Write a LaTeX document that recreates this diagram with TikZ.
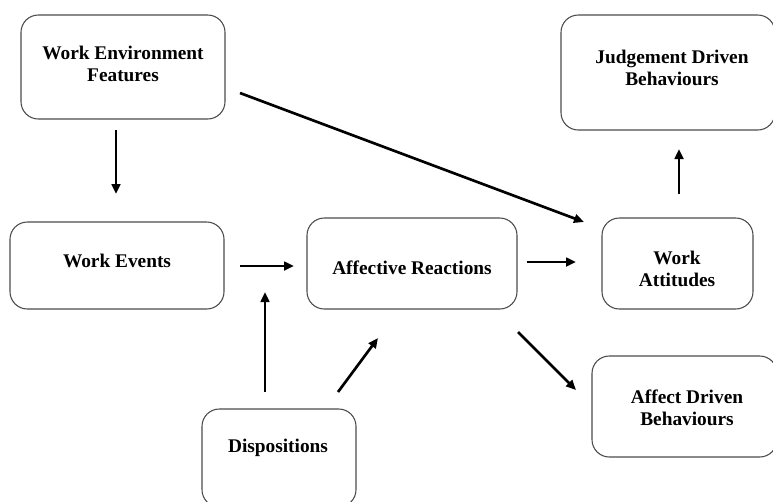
\documentclass[tikz,border=0pt]{standalone}
\usepackage{fontspec}
\setmainfont{Liberation Serif}
\usetikzlibrary{arrows.meta}
\begin{document}
\begin{tikzpicture}[x=0.75pt,y=-0.75pt,
  box/.style={draw=black!70,line width=0.8pt,rounded corners=13pt,fill=white},
  lbl/.style={font=\fontsize{14.5}{16.5}\selectfont\bfseries,align=center,inner sep=0pt},
  arr/.style={line width=2pt,-{Triangle[length=7.5pt,width=6.5pt]}}]
\useasboundingbox[fill=white] (0,0) rectangle (773,501);
% boxes
\draw[box] (21,15) rectangle (225,119);
\draw[box] (561,15) rectangle (775,130);
\draw[box] (10,222) rectangle (224,309);
\draw[box] (307,218) rectangle (517,309);
\draw[box] (602,218) rectangle (753,309);
\draw[box] (592,356) rectangle (777,457);
\draw[box] (202,409) rectangle (356,507);
% labels
\node[lbl] (wef) at (123,64) {Work Environment\\Features};
\node[lbl] (jdb) at (672,68) {Judgement Driven\\Behaviours};
\node[lbl] (we) at (117,261) {Work Events};
\node[lbl] (ar) at (412,268) {Affective Reactions};
\node[lbl] (wa) at (677,269) {Work\\Attitudes};
\node[lbl] (adb) at (687,408) {Affect Driven\\Behaviours};
\node[lbl] (dis) at (278,448) {Dispositions};
% connector ends
\coordinate (a1s) at (116,130); \coordinate (a1e) at (116,194);
\coordinate (a2s) at (240,93);  \coordinate (a2e) at (584,222);
\coordinate (a3s) at (240,266); \coordinate (a3e) at (294,266);
\coordinate (a4s) at (527,262); \coordinate (a4e) at (576,262);
\coordinate (a5s) at (679,194); \coordinate (a5e) at (679,149);
\coordinate (a6s) at (265,392); \coordinate (a6e) at (265,292);
\coordinate (a7s) at (338,392); \coordinate (a7e) at (378,338);
\coordinate (a8s) at (518,332); \coordinate (a8e) at (576,390);
\draw[arr] (a1s) -- (a1e);
\draw[arr] (a2s) -- (a2e);
\draw[arr] (a3s) -- (a3e);
\draw[arr] (a4s) -- (a4e);
\draw[arr] (a5s) -- (a5e);
\draw[arr] (a6s) -- (a6e);
\draw[arr] (a7s) -- (a7e);
\draw[arr] (a8s) -- (a8e);
\end{tikzpicture}
\end{document}
